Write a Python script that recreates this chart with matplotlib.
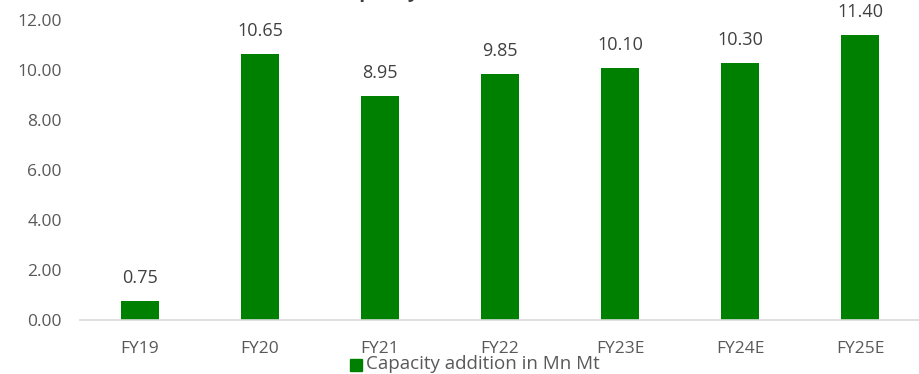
import matplotlib
matplotlib.use("Agg")
import matplotlib.pyplot as plt
from matplotlib.patches import Rectangle

# capacity additions by fiscal year (Mn Mt)
years = ["FY19", "FY20", "FY21", "FY22", "FY23E", "FY24E", "FY25E"]
capacity = [0.75, 10.65, 8.95, 9.85, 10.10, 10.30, 11.40]
y_ticks = [0, 2, 4, 6, 8, 10, 12]

GREEN = "#008000"
GREY = "#595959"

plt.rcParams["font.family"] = ["Open Sans", "DejaVu Sans"]

fig = plt.figure(figsize=(9.2, 3.74), dpi=100)
ax = fig.add_axes([0.087, 0.1444, 0.913, 0.8021])

x = range(len(years))
bars = ax.bar(x, capacity, width=0.32, color=GREEN, zorder=2)
for b, v in zip(bars, capacity):
    ax.annotate(f"{v:.2f}", (b.get_x() + b.get_width() / 2, v),
                xytext=(0, 10), textcoords="offset points",
                ha="center", va="bottom", fontsize=13, color="#404040")

ax.set_xlim(-0.5, len(years) - 0.5)
ax.set_ylim(0, 12)
ax.set_yticks(y_ticks)
ax.set_yticklabels([f"{t:.2f}" for t in y_ticks])
ax.set_xticks(list(x))
ax.set_xticklabels(years)
ax.tick_params(axis="both", length=0, labelsize=12.5, labelcolor=GREY)
ax.tick_params(axis="x", pad=15)
ax.tick_params(axis="y", pad=13)

for side in ["top", "right", "left"]:
    ax.spines[side].set_visible(False)
ax.spines["bottom"].set_color("#d9d9d9")
ax.spines["bottom"].set_linewidth(1.2)

# title sits above the canvas, only its descenders show
fig.text(335 / 920, 1 + 3 / 374, "Capacity addition (Mn Mt)", ha="left", va="baseline",
         fontsize=14, fontweight="bold", color="#404040")

# legend entry
fig.patches.append(Rectangle((350 / 920, 1 - 371 / 374), 12 / 920, 12 / 374,
                             transform=fig.transFigure, color=GREEN))
fig.text(366 / 920, 1 - 364 / 374, "Capacity addition in Mn Mt", ha="left", va="center",
         fontsize=13.5, color=GREY)

fig.savefig("out.png", dpi=100)
